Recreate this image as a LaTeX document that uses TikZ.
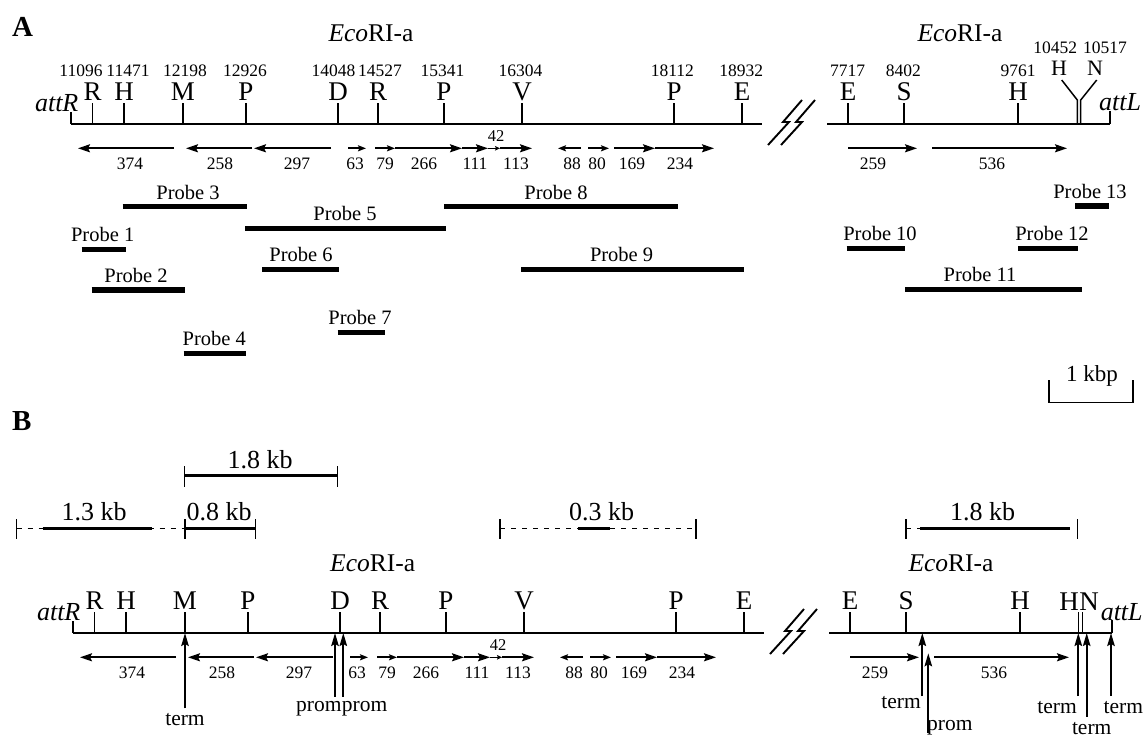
\documentclass[tikz,border=0pt]{standalone}
\usepackage{fontspec}
\setmainfont{Liberation Serif}
\usetikzlibrary{arrows.meta}
\begin{document}
\begin{tikzpicture}[x=1pt,y=-1pt,every node/.style={inner sep=0pt,anchor=base},
    dna/.style={line width=2pt},cut/.style={line width=1.5pt},
    orf/.style={line width=1.9pt,-{Stealth[length=12pt,width=8pt,inset=2pt]}},
    orfs/.style={line width=1.9pt,-{Stealth[length=8pt,width=6pt,inset=1.5pt]}},
    orft/.style={line width=1.2pt,-{Stealth[length=5pt,width=4.5pt,inset=1pt]}},
    probebar/.style={line width=5.5pt},kbbar/.style={line width=2.8pt},
    kbdash/.style={line width=1.5pt,dash pattern=on 5pt off 6pt},
    signal/.style={line width=1.8pt,-{Stealth[length=13pt,width=7.5pt,inset=2pt]}},
    sitelab/.style={font=\fontsize{27}{29}\selectfont},
    poslab/.style={font=\fontsize{17.5}{19}\selectfont},
    orflab/.style={font=\fontsize{17.5}{19}\selectfont},
    probelab/.style={font=\fontsize{20.5}{22}\selectfont},
    ecolab/.style={font=\fontsize{25.5}{27}\selectfont},
    attlab/.style={font=\fontsize{26}{28}\selectfont\itshape},
    kblab/.style={font=\fontsize{26}{28}\selectfont},
    siglab/.style={font=\fontsize{21.5}{23}\selectfont},
    panellab/.style={font=\fontsize{29}{31}\selectfont\bfseries}]
    \useasboundingbox (0,0) rectangle (1145,740);
    \def\mapsites{92.7/R,124/H,183/M,246/P,338/D,378/R,444/P,522/V,674/P,742/E,848/E,904/S,1018/H} %x/site
    \def\maporfs{174/78/374/130/orf,252/186/258/220/orf,331/254/297/297/orf,348/366/63/355/orfs,375/395/79/385/orfs,395/462/266/424/orf,462/488/111/475/orf,500/532/113/516/orf,581/558/88/572/orfs,588/609/80/597/orfs,614/655/169/632/orf,655/714/234/680/orf,848/917/259/873/orf,932/1067/536/992/orf} %from/to/size/label x
    % both maps
    \foreach \dx/\dy/\pn in {0/0/A,2/509/B}{
        \begin{scope}[shift={(\dx,\dy)}]
            \draw[dna] (71,123.5) -- (762,123.5) (827,123.5) -- (1110,123.5);
            \draw[cut] (71,123.5) -- (71,112) (1110,123.5) -- (1110,111);
            \node[attlab] (attR\pn) at (56.7,111) {attR};
            \foreach \x/\s [count=\i] in \mapsites {
                \draw[cut] (\x,123.5) -- (\x,103);
                \node[sitelab] (site\pn\i) at (\x,100) {\s};
            }
            \foreach \bx in {768,781} \draw[line width=1.9pt] (\bx,145) -- ++(21,-23) -- ++(-6,0) -- ++(19,-22);
            \foreach \a/\b/\n/\lx/\st in \maporfs {
                \draw[\st] (\a,148.3) -- (\b,148.3);
                \node[orflab] (orf\pn\n) at (\lx,169.3) {\n};
            }
            \draw[orft] (488,148.3) -- (500,148.3);
            \node[orflab,font=\fontsize{16.5}{18}\selectfont] (orf\pn42) at (496,141.7) {42};
        \end{scope}
    }
    % panel A
    \node[panellab] (panelA) at (22.5,36) {A};
    \node[ecolab] (ecoA1) at (371,41.7) {\textit{Eco}RI-a};
    \node[ecolab] (ecoA2) at (960,41.7) {\textit{Eco}RI-a};
    \foreach \x/\v [count=\i] in {81/11096,128/11471,185/12198,245/12926,333.5/14048,380/14527,442.5/15341,520.5/16304,672.3/18112,741.3/18932,847.7/7717,903.3/8402,1018/9761}
        \node[poslab] (pos\i) at (\x,76) {\v};
    \node[poslab] (pos14) at (1055.3,53.3) {10452};
    \node[poslab] (pos15) at (1105,53.3) {10517};
    \draw[cut] (1077.3,123.5) -- (1077.3,100) -- (1061.7,80) (1080.7,123.5) -- (1080.7,100) -- (1096.7,80);
    \node[sitelab,font=\fontsize{22}{24}\selectfont] (siteAH) at (1059,75) {H};
    \node[sitelab,font=\fontsize{22}{24}\selectfont] (siteAN) at (1095,75) {N};
    \node[attlab] (attLA) at (1120,110) {attL};
    \foreach \a/\b/\y/\lx/\n in {81.7/126/249.3/102.7/1,91.7/185/290/136/2,122.7/246.7/206.7/188/3,183.7/245.7/353.3/214.3/4,245/446/228.3/345/5,262.3/339/269.3/301/6,337.7/385/332.3/360/7,444/677.5/206.7/556/8,521/743.6/269.3/621.6/9,846.6/905/248.3/880/10,905/1081.6/289.3/980/11,1018/1078/248.3/1052/12,1075/1109/206/1090/13}{
        \draw[probebar] (\a,\y) -- (\b,\y);
        \node[probelab] (probe\n) at (\lx,\y-7.5) {Probe \n};
    }
    \draw[cut] (1049,380) -- (1049,402.7) -- (1133,402.7) -- (1133,380);
    \node[probelab,font=\fontsize{23}{25}\selectfont] (kbp) at (1092,381) {1 kbp};
    % panel B
    \node[panellab] (panelB) at (21.7,430) {B};
    \node[ecolab] (ecoB1) at (372.7,571.7) {\textit{Eco}RI-a};
    \node[ecolab] (ecoB2) at (951,571.7) {\textit{Eco}RI-a};
    \draw[cut] (1078.3,632.5) -- (1078.3,612) (1082.7,632.5) -- (1082.7,612);
    \node[sitelab] (siteBH) at (1069,610) {H};
    \node[sitelab] (siteBN) at (1089,610) {N};
    \node[attlab] (attLB) at (1121.7,620) {attL};
    \foreach \x/\ya/\yb in {184.3/466/487,337.7/466/487,16.6/519/539,185/519/539,255.7/519/539,500/519/539,696/519/539,906/519/539,1077.7/519/539}
        \draw[cut] (\x,\ya) -- (\x,\yb);
    \draw[kbbar] (184.3,475.5) -- (337.7,475.5);
    \draw[kbdash] (16.6,528.3) -- (185,528.3) (500,528.3) -- (696,528.3) (906,528.3) -- (920,528.3);
    \draw[kbbar] (42.5,528.3) -- (152,528.3) (185,528.3) -- (255.7,528.3) (578,528.3) -- (610,528.3) (920,528.3) -- (1070,528.3);
    \node[kblab] (kb1) at (260,468.3) {1.8 kb};
    \node[kblab] (kb2) at (94,520) {1.3 kb};
    \node[kblab] (kb3) at (219,520) {0.8 kb};
    \node[kblab] (kb4) at (601.7,520) {0.3 kb};
    \node[kblab] (kb5) at (982.7,520) {1.8 kb};
    \foreach \x/\yb/\yt [count=\i] in {185/708.3/633,335/696.7/633,343.3/696.7/633,922.3/696/633,928.3/733.3/653.3,1078.3/696/633,1086.7/716.7/633,1111/696/633}{
        \coordinate (sigfoot\i) at (\x,\yb);
        \coordinate (sigtip\i) at (\x,\yt);
        \draw[signal] (sigfoot\i) -- (sigtip\i);
    }
    \node[siglab] (term1) at (185,725) {term};
    \node[siglab,anchor=base east] (prom1) at (341.7,711.7) {prom};
    \node[siglab,anchor=base west] (prom2) at (341.7,711.7) {prom};
    \node[siglab,anchor=base east] (term2) at (921,708.3) {term};
    \node[siglab,anchor=base west] (prom3) at (927,730) {prom};
    \node[siglab,anchor=base east] (term3) at (1077,713.3) {term};
    \node[siglab] (term4) at (1091.7,734.5) {term};
    \node[siglab] (term5) at (1123.3,713.3) {term};
\end{tikzpicture}
\end{document}
